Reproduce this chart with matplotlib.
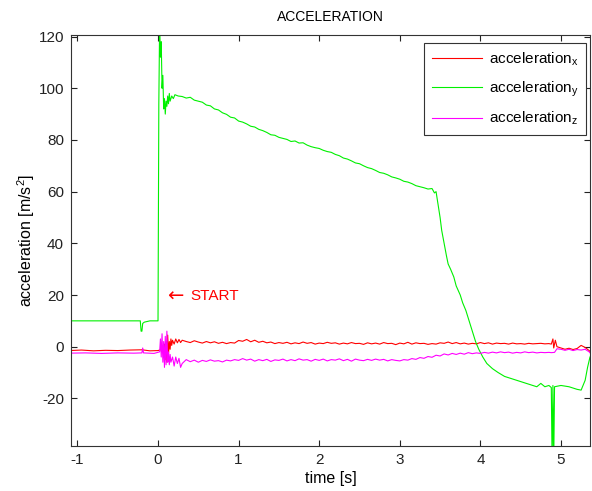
import numpy as np
import matplotlib
matplotlib.use('Agg')
import matplotlib.pyplot as plt

plt.rcParams['font.family'] = ['Liberation Sans', 'DejaVu Sans']
plt.rcParams['mathtext.fontset'] = 'custom'
plt.rcParams['mathtext.rm'] = 'Liberation Sans'
plt.rcParams['mathtext.it'] = 'Liberation Sans'
plt.rcParams['axes.unicode_minus'] = False

# ---- data ----
step = 0.05
mid_start = 0.30  # regular sampled part starts here

# acceleration_x (red)
tx_pre = [-1.10, -0.95, -0.80, -0.65, -0.50, -0.35, -0.20, -0.10, 0.00,
          0.05, 0.07, 0.08, 0.09, 0.10, 0.11, 0.12, 0.13, 0.14, 0.15, 0.16,
          0.17, 0.18, 0.20, 0.22, 0.24, 0.26, 0.28]
ax_pre = [-1.5, -1.3, -1.6, -1.4, -1.5, -1.3, -1.2, -1.6, -1.5,
          -1.0, -3.0, 1.0, -5.0, 2.0, -6.0, 4.5, -3.0, 2.0, -1.0, 3.0,
          0.5, 2.5, 1.0, 3.0, 1.5, 2.8, 1.6]
ax_mid = [2.5, 2.0, 1.6, 2.3, 1.8, 1.4, 2.0, 1.5, 1.9, 1.3, 1.7, 1.2, 1.6, 1.4,
          2.4, 2.1, 2.8, 1.9, 2.5, 1.7, 2.1, 1.5, 1.8, 1.2, 1.6, 1.3, 1.7, 1.1,
          1.5, 1.2, 1.8, 1.3, 1.6, 1.0, 1.4, 1.2, 1.7, 1.3, 1.5, 1.0, 1.4, 1.1,
          1.6, 1.2, 1.3, 0.9, 1.5, 1.1, 1.4, 1.0, 1.6, 1.2, 1.3, 0.8, 1.4, 1.1,
          1.7, 1.0, 1.5, 1.2, 1.3, 0.9, 1.2, 1.0, 1.5, 1.3, 1.8, 1.2, 1.6, 1.1,
          1.4, 1.0, 1.3, 1.1, 1.6, 1.2, 1.5, 1.0, 1.4, 1.2, 1.3, 1.0, 1.4, 1.1,
          1.2, 1.0, 1.3, 1.1, 1.2, 1.3, 1.1, 1.2]
tx_end = [4.88, 4.90, 4.91, 4.93, 4.95, 5.00, 5.05, 5.10, 5.15, 5.20, 5.25,
          5.30, 5.35, 5.40]
ax_end = [1.0, 3.0, -0.5, 2.5, 0.0, -0.5, -1.0, -0.6, -1.1, -0.7, 0.5,
          -0.3, -1.5, -3.5]

# acceleration_y (green)
ty_pre = [-1.10, -0.22, -0.21, -0.20, -0.19, -0.17, -0.10, 0.00, 0.01, 0.02,
          0.03, 0.04, 0.05, 0.06, 0.07, 0.08, 0.09, 0.10, 0.11, 0.12, 0.13,
          0.14, 0.15, 0.17, 0.19, 0.21, 0.25]
ay_pre = [10.0, 10.0, 6.0, 6.0, 9.0, 9.5, 10.0, 10.0, 94.0, 125.0,
          112.0, 118.0, 100.0, 105.0, 92.0, 96.0, 90.0, 95.0, 93.0, 97.0, 94.0,
          98.0, 95.0, 97.0, 96.0, 97.5, 97.0]
ay_mid = [96.8, 96.2, 96.5, 95.4, 95.0, 94.6, 93.5, 93.2, 92.0, 91.6, 90.5,
          89.9, 88.8, 88.5, 87.3, 86.9, 86.2, 85.3, 85.0, 84.1, 83.6, 82.9,
          82.0, 81.8, 81.0, 80.6, 80.2, 79.4, 79.6, 78.8, 78.9, 78.0, 77.4,
          77.0, 76.7, 76.0, 75.5, 75.2, 74.4, 73.9, 73.0, 72.6, 71.9, 71.1,
          70.8, 70.0, 69.3, 68.9, 68.2, 67.4, 67.1, 66.5, 65.7, 65.3, 64.8,
          64.0, 63.7, 63.1, 62.3, 61.9, 61.5, 61.0, 61.2]
ty_end = [3.43, 3.45, 3.47, 3.50, 3.52, 3.55, 3.58, 3.60, 3.63, 3.67, 3.70,
          3.75, 3.78, 3.82, 3.86, 3.90, 3.94, 3.98, 4.03, 4.08, 4.15, 4.22,
          4.30, 4.40, 4.50, 4.60, 4.70, 4.75, 4.80, 4.85, 4.88, 4.89, 4.90,
          4.91, 4.92, 5.00, 5.10, 5.20, 5.25, 5.30, 5.33, 5.36, 5.40]
ay_end = [59.5, 60.0, 56.0, 50.0, 45.0, 40.0, 35.0, 32.0, 30.0, 27.0, 23.5,
          20.0, 17.0, 14.0, 10.0, 6.0, 2.0, -1.0, -4.0, -6.5, -8.5, -10.0,
          -11.5, -12.5, -13.5, -14.5, -15.5, -14.2, -15.5, -15.0, -15.8, -45.0,
          -15.0, -45.0, -15.5, -15.0, -15.5, -16.5, -16.8, -13.0, -8.0, -4.0,
          -2.0]

# acceleration_z (magenta)
tz_pre = [-1.10, -0.90, -0.70, -0.50, -0.30, -0.20, -0.19, -0.18, -0.05, 0.00,
          0.02, 0.03, 0.04, 0.05, 0.06, 0.07, 0.08, 0.09, 0.10, 0.11, 0.12,
          0.13, 0.14, 0.15, 0.16, 0.18, 0.20, 0.22, 0.24, 0.26, 0.28]
az_pre = [-2.5, -2.4, -2.6, -2.4, -2.5, -2.4, -0.5, -2.4, -2.6, -2.2,
          -2.0, 3.0, -4.0, 5.0, -6.0, 2.0, -8.0, 4.0, -7.0, 6.0, -6.0,
          -2.0, -7.0, -3.0, -6.0, -4.0, -7.5, -4.0, -6.5, -4.5, -8.0]
az_mid = [-6.5, -5.0, -5.8, -5.2, -6.0, -5.3, -5.7, -5.1, -5.6, -5.4, -5.9,
          -5.2, -5.5, -5.0,
          -5.3, -4.6, -5.2, -4.8, -5.6, -5.0, -5.4, -4.9, -5.7, -5.1, -5.3,
          -4.8, -5.5, -5.0, -5.4, -4.7, -5.2, -5.0, -5.6, -4.9,
          -5.3, -4.8, -5.5, -5.0, -5.2, -4.7, -5.4, -4.9, -5.6, -4.8, -5.2,
          -5.4, -4.9, -5.3, -4.8, -5.2, -4.9, -5.5, -5.0, -5.3,
          -5.5, -5.0, -5.2, -4.6, -4.9, -4.2, -4.5, -3.8, -4.1, -3.3, -3.6,
          -2.8, -3.2, -2.6, -3.0, -2.5, -2.9, -2.3, -2.7, -2.4,
          -2.6, -2.2, -2.5, -2.1, -2.4, -2.0, -2.3, -2.1, -2.5, -2.2, -2.4,
          -2.0, -2.3, -2.1, -2.4, -2.2, -2.3, -2.2]
tz_end = [4.88, 4.92, 4.95, 5.00, 5.05, 5.10, 5.15, 5.20, 5.25, 5.30, 5.35,
          5.40]
az_end = [-2.3, -2.2, -0.8, -1.0, -1.4, -1.0, -1.5, -1.1, -1.3, -1.0, -2.0,
          -3.8]

x_ticks = [-1, 0, 1, 2, 3, 4, 5]
y_ticks = [-20, 0, 20, 40, 60, 80, 100, 120]


def series(t_pre, v_pre, v_mid, t_end, v_end):
    t_mid = mid_start + step * np.arange(len(v_mid))
    t = np.concatenate([t_pre, t_mid, t_end])
    v = np.concatenate([v_pre, v_mid, v_end])
    return t, v


tx, ax_ = series(tx_pre, ax_pre, ax_mid, tx_end, ax_end)
ty, ay = series(ty_pre, ay_pre, ay_mid, ty_end, ay_end)
tz, az = series(tz_pre, az_pre, az_mid, tz_end, az_end)

fig = plt.figure(figsize=(5.92, 4.91), dpi=100)
ax = fig.add_axes([0.1199, 0.0923, 0.8767, 0.8364])

ax.plot(tx, ax_, color='#ff0000', lw=0.8, label=r'acceleration$_\mathregular{x}$')
ax.plot(ty, ay, color='#00f000', lw=0.8, label=r'acceleration$_\mathregular{y}$')
ax.plot(tz, az, color='#ff00ff', lw=0.8, label=r'acceleration$_\mathregular{z}$')

ax.set_xlim(-1.08, 5.36)
ax.set_ylim(-38.3, 120.6)
ax.set_xticks(x_ticks)
ax.set_yticks(y_ticks)
ax.tick_params(direction='in', top=True, right=True, length=4, width=0.8,
               labelsize=11, colors='#222222', pad=5)
for s in ax.spines.values():
    s.set_color('#333333')
    s.set_linewidth(0.8)

ax.set_title('ACCELERATION', fontsize=10, pad=10)
ax.set_xlabel('time [s]', fontsize=11.5, labelpad=3)
ax.set_ylabel(r'acceleration [m/s$^\mathregular{2}$]', fontsize=11.5, labelpad=1)

ax.text(0.115, 19.6, '\u2190', color='#ff0000', fontsize=14,
        family=['DejaVu Sans'], ha='left', va='center')
ax.text(0.40, 19.6, 'START', color='#ff0000', fontsize=11,
        ha='left', va='center')

leg = ax.legend(loc='upper right', bbox_to_anchor=(0.992, 0.981),
                borderaxespad=0, fancybox=False, framealpha=1,
                edgecolor='#333333', fontsize=11, handlelength=3.3,
                handletextpad=0.4, labelspacing=0.75, borderpad=0.5)
leg.get_frame().set_linewidth(0.8)

fig.savefig('out.png', dpi=100)
